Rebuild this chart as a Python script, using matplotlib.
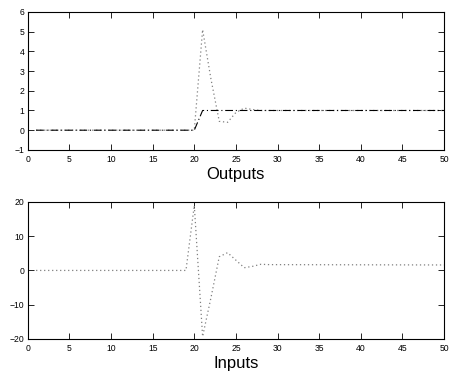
import matplotlib
matplotlib.use("Agg")
import matplotlib.pyplot as plt

plt.rcParams['font.family'] = ['Liberation Sans', 'DejaVu Sans']

# Outputs panel
out_t = [1, 20, 21, 22, 23, 24, 25, 26, 27, 28, 50]
out_y = [0, 0, 5.1, 2.6, 0.45, 0.4, 0.9, 1.12, 1.05, 1.0, 1.0]
ref_t = [1, 20, 21, 50]
ref_y = [0, 0, 1, 1]

# Inputs panel
in_t = [1, 19, 20, 21, 22, 23, 24, 25, 26, 27, 28, 29, 50]
in_y = [0, 0, 19.0, -19.3, -8.0, 4.0, 5.2, 3.0, 0.8, 1.2, 1.8, 1.7, 1.6]

xticks = [0, 5, 10, 15, 20, 25, 30, 35, 40, 45, 50]
top_yticks = [-1, 0, 1, 2, 3, 4, 5, 6]
bot_yticks = [-20, -10, 0, 10, 20]

fig = plt.figure(figsize=(4.55, 3.72), dpi=100)
ax1 = fig.add_axes([0.061, 0.597, 0.915, 0.371])
ax2 = fig.add_axes([0.061, 0.089, 0.915, 0.368])

dot_style = dict(color='0.5', lw=0.9, linestyle=(0, (1, 2.2)))
ax1.plot(out_t, out_y, **dot_style)
ax1.plot(ref_t, ref_y, color='black', lw=0.8, linestyle=(0, (7, 2.5, 1, 2.5)))
ax1.set_ylim(-1, 6)
ax1.set_yticks(top_yticks)
ax1.set_xlabel('Outputs', fontsize=12, labelpad=1.5)

ax2.plot(in_t, in_y, **dot_style)
ax2.set_ylim(-20, 20)
ax2.set_yticks(bot_yticks)
ax2.set_xlabel('Inputs', fontsize=12, labelpad=1.5)

for ax in (ax1, ax2):
    ax.set_xlim(0, 50)
    ax.set_xticks(xticks)
    ax.tick_params(direction='in', top=True, right=True, length=4, width=0.6,
                   labelsize=6.2)
    ax.tick_params(axis='x', pad=4)
    ax.tick_params(axis='y', pad=2.5)
    for s in ax.spines.values():
        s.set_linewidth(0.8)

fig.savefig('out.png', dpi=100)
